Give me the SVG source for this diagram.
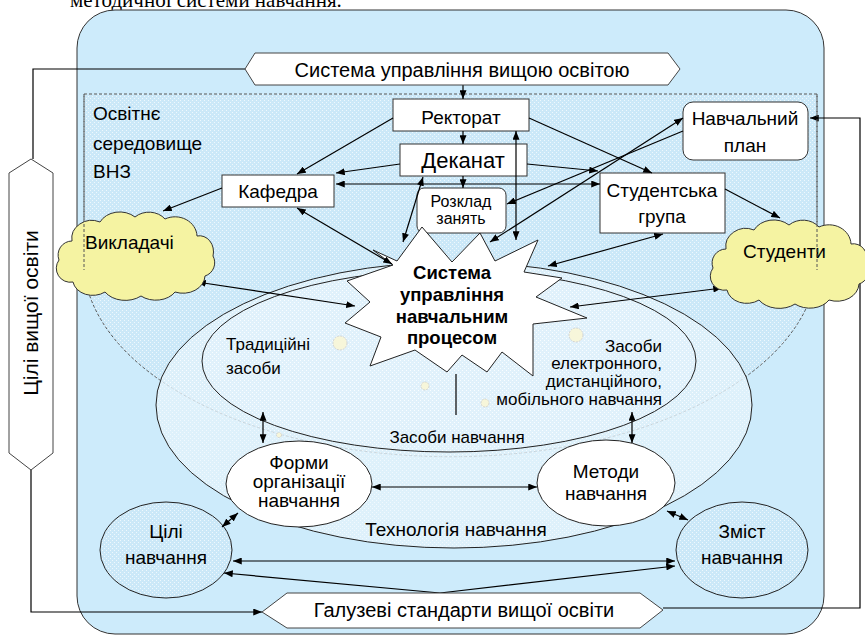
<svg xmlns="http://www.w3.org/2000/svg" width="865" height="637" viewBox="0 0 865 637">
<style>
text{font-family:"Liberation Sans",Arial,sans-serif;fill:#000}
.t19{font-size:19px}
.t17{font-size:17px}
.mid{text-anchor:middle}
.box{fill:#fff;stroke:#333;stroke-width:1}
.ell{stroke:#222;stroke-width:1}
.c{fill:none;stroke:#000;stroke-width:1.2}
.ban{fill:#fff;stroke:#444;stroke-width:1}
.cloud{fill:#f5f3a2;stroke:#333;stroke-width:1}
.bub{fill:#f7f6da;stroke:#ccc;stroke-width:0.8;stroke-dasharray:2 1}
.envs{fill:none;stroke:#555;stroke-width:1;stroke-dasharray:3 2}
</style>
<defs>
<pattern id="pEnv" width="4" height="4" patternUnits="userSpaceOnUse"><rect width="4" height="4" fill="#cbe8f8"/><rect width="1" height="1" fill="#eef8fd"/><rect x="2" y="2" width="1" height="1" fill="#eef8fd"/></pattern>
<pattern id="pTech" width="4" height="4" patternUnits="userSpaceOnUse"><rect width="4" height="4" fill="#e2f2fb"/><rect width="1" height="1" fill="#fafdff"/><rect x="2" y="2" width="1" height="1" fill="#fafdff"/></pattern>
<marker id="ah" viewBox="0 0 10 8" refX="10" refY="4" markerWidth="9" markerHeight="7" markerUnits="userSpaceOnUse" orient="auto-start-reverse"><path d="M0,0 L10,4 L0,8 Z" fill="#000"/></marker>
<path id="cloudShape" d="M17,33 A20,18 0 0 1 45,14 A22,18 0 0 1 80,9 A20,17 0 0 1 110,11 A22,20 0 0 1 142,28 A14,16 0 0 1 158,48 A14,14 0 0 1 150,68 A22,18 0 0 1 120,84 A22,16 0 0 1 86,88 A24,18 0 0 1 50,84 A20,16 0 0 1 18,74 A14,14 0 0 1 4,52 A14,14 0 0 1 17,33 Z"/>
</defs>

<text x="70" y="7" style="font-family:'Liberation Serif',serif;font-size:21px">методичної системи навчання.</text>

<g id="outer"><rect x="77" y="10" width="747" height="624" rx="38" ry="38" fill="#cdebfb" stroke="#333" stroke-width="1"/></g>

<g id="environment">
<path d="M84,94 H817 V270 A367,197 0 0 1 84,270 Z" fill="url(#pEnv)"/>
<path class="envs" d="M84,94 H817 V270 A367,197 0 0 1 84,270 Z"/>
<text class="t19" x="93" y="120">Освітнє</text>
<text class="t19" x="93" y="150">середовище</text>
<text class="t19" x="93" y="178">ВНЗ</text>
</g>

<g id="tech">
<ellipse class="ell" cx="454" cy="405" rx="298" ry="143" fill="url(#pTech)" fill-opacity="0.8"/>
<text class="t19 mid" x="456" y="536">Технологія навчання</text>
</g>

<g id="zasoby">
<ellipse class="ell" cx="449" cy="361" rx="247" ry="91" fill="url(#pTech)" fill-opacity="0.6"/>
<text class="t17 mid" x="457" y="443">Засоби навчання</text>
<text class="t17" x="226" y="350">Традиційні</text>
<text class="t17" x="226" y="374">засоби</text>
<g class="t17" text-anchor="end">
<text x="662" y="352">Засоби</text>
<text x="662" y="369">електронного,</text>
<text x="662" y="387">дистанційного,</text>
<text x="662" y="405">мобільного навчання</text>
</g>
<circle class="bub" cx="340" cy="343" r="7"/>
<circle class="bub" cx="576" cy="335" r="7"/>
<circle class="bub" cx="425" cy="386" r="4"/>
<circle class="bub" cx="485" cy="403" r="4"/>
<circle class="bub" cx="279" cy="435" r="2.5"/>
</g>

<g id="rektorat"><rect class="box" x="393" y="99" width="136" height="32"/><text class="t19 mid" x="461" y="124">Ректорат</text></g>
<g id="dekanat"><rect class="box" x="400" y="144" width="127" height="32"/><text class="mid" x="463" y="168" style="font-size:22px">Деканат</text></g>
<g id="kafedra"><rect class="box" x="222" y="175" width="112" height="32"/><text class="t19 mid" x="278" y="198">Кафедра</text></g>
<g id="rozklad"><rect class="box" x="417" y="188" width="89" height="45" rx="7"/><text class="mid" x="461" y="207" style="font-size:16px">Розклад</text><text class="mid" x="461" y="224" style="font-size:16px">занять</text></g>
<g id="grupa"><rect class="box" x="600" y="173" width="125" height="60"/><text class="t19 mid" x="662" y="197">Студентська</text><text class="t19 mid" x="662" y="223">група</text></g>
<g id="plan"><rect class="box" x="683" y="102" width="125" height="58" rx="10"/><text class="t19 mid" x="745" y="125">Навчальний</text><text class="t19 mid" x="745" y="152">план</text></g>

<g id="star">
<polygon fill="#fff" stroke="#222" stroke-width="1" points="373,250 397,261 422,227 452,262 480,233 495,261 538,240 524,272 562,278 536,297 587,318 533,324 533,376 502,352 487,372 462,355 447,372 415,350 370,366 381,337 345,323 370,302 347,281 393,265"/>
<g style="font-weight:bold;font-size:18.5px" text-anchor="middle">
<text x="452" y="279">Система</text>
<text x="452" y="301">управління</text>
<text x="452" y="323">навчальним</text>
<text x="452" y="344">процесом</text>
</g>
</g>

<g id="formy"><ellipse class="ell" cx="299" cy="484" rx="73" ry="43" fill="#fff"/><text class="t19 mid" x="299" y="469">Форми</text><text class="t19 mid" x="299" y="488">організації</text><text class="t19 mid" x="299" y="507">навчання</text></g>
<g id="metody"><ellipse class="ell" cx="606" cy="483" rx="69" ry="43" fill="#fff"/><text class="t19 mid" x="606" y="478">Методи</text><text class="t19 mid" x="606" y="500">навчання</text></g>
<g id="tsili"><ellipse class="ell" cx="166" cy="550" rx="66" ry="48" fill="url(#pEnv)"/><text class="t19 mid" x="166" y="538">Цілі</text><text class="t19 mid" x="166" y="564">навчання</text></g>
<g id="zmist"><ellipse class="ell" cx="742" cy="550" rx="66" ry="48" fill="url(#pEnv)"/><text class="t19 mid" x="742" y="538">Зміст</text><text class="t19 mid" x="742" y="564">навчання</text></g>

<g id="connectors" class="c">
<path d="M663,608 H860 V118 H810" marker-end="url(#ah)"/>
<path d="M245,69 H33 V159"/>
<path d="M31,470 V612 H262" marker-end="url(#ah)"/>
<path d="M463,85 V99" marker-end="url(#ah)"/>
<path d="M463,131 V144" marker-end="url(#ah)"/>
<path d="M463,176 V188" marker-end="url(#ah)"/>
<path d="M393,118 L297,174" marker-end="url(#ah)"/>
<path d="M400,164 L336,173" marker-end="url(#ah)"/>
<path d="M336,184 H600" marker-start="url(#ah)" marker-end="url(#ah)"/>
<path d="M529,118 L652,173" marker-end="url(#ah)"/>
<path d="M527,164 L598,171" marker-end="url(#ah)"/>
<path d="M683,131 L507,204" marker-end="url(#ah)"/>
<path d="M490,242 L683,118" marker-start="url(#ah)" marker-end="url(#ah)"/>
<path d="M516,131 V240" marker-start="url(#ah)" marker-end="url(#ah)"/>
<path d="M423,177 L403,242" marker-start="url(#ah)" marker-end="url(#ah)"/>
<path d="M297,208 L392,264" marker-start="url(#ah)" marker-end="url(#ah)"/>
<path d="M222,188 L163,211" marker-end="url(#ah)"/>
<path d="M197,282 L355,306" marker-start="url(#ah)" marker-end="url(#ah)"/>
<path d="M725,189 L780,218" marker-end="url(#ah)"/>
<path d="M663,234 L548,266" marker-start="url(#ah)" marker-end="url(#ah)"/>
<path d="M722,288 L570,307" marker-start="url(#ah)" marker-end="url(#ah)"/>
<path d="M456,374 V415"/>
<path d="M263,412 V443" marker-start="url(#ah)" marker-end="url(#ah)"/>
<path d="M632,412 V443" marker-start="url(#ah)" marker-end="url(#ah)"/>
<path d="M372,487 H537" marker-start="url(#ah)" marker-end="url(#ah)"/>
<path d="M222,527 L238,513" marker-start="url(#ah)" marker-end="url(#ah)"/>
<path d="M667,511 L688,520" marker-start="url(#ah)" marker-end="url(#ah)"/>
<path d="M233,561 H675" marker-start="url(#ah)" marker-end="url(#ah)"/>
<path d="M224,573 L440,593 L675,566" marker-start="url(#ah)" marker-end="url(#ah)"/>
</g>

<g id="vykladachi"><use href="#cloudShape" class="cloud" transform="translate(55,208)"/><text class="t19" x="85" y="249">Викладачі</text></g>
<g id="studenty"><use href="#cloudShape" class="cloud" transform="translate(709,216)"/><text class="t19" x="743" y="258">Студенти</text></g>
<path class="envs" d="M84,94 V270 M817,94 V270"/>

<g id="systema-upr"><polygon class="ban" points="255,53 668,53 680,69 668,85 255,85 245,69"/><text class="mid" x="462" y="77" style="font-size:20px">Система управління вищою освітою</text></g>
<g id="galuzevi"><polygon class="ban" points="287,593 640,593 663,610 640,628 287,628 262,612"/><text class="mid" x="464" y="617" style="font-size:20px">Галузеві стандарти вищої освіти</text></g>
<g id="tsili-vyshchoi"><polygon class="ban" points="31,159 53,173 53,453 31,470 9,453 9,173"/><text class="mid" transform="translate(38,313) rotate(-90)" style="font-size:21px">Цілі вищої освіти</text></g>
</svg>
